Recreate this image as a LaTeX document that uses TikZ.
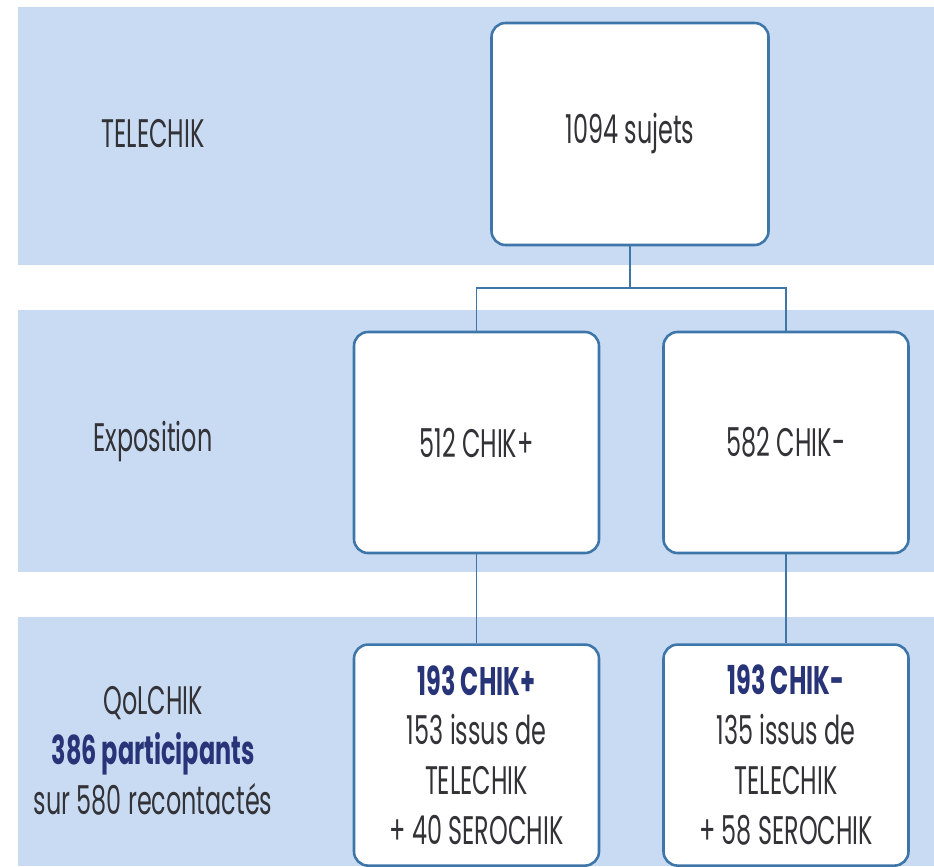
\documentclass[tikz,border=0pt]{standalone}
\usepackage{fontspec}
\setmainfont[FakeStretch=0.6]{Poppins}
\usepackage{tikz}
\usetikzlibrary{positioning}

\definecolor{bandblue}{RGB}{200,219,243}
\definecolor{lineblue}{RGB}{62,118,170}
\definecolor{navy}{RGB}{40,52,120}
\definecolor{textgrey}{RGB}{50,50,55}

\begin{document}
\begin{tikzpicture}[
                x=0.03cm,y=-0.03cm,
                node distance=2.67cm,
                every node/.append style={text=textgrey,font=\fontsize{34}{42.5}\selectfont,align=center},
                box/.style={draw=lineblue,line width=2.2pt,fill=white,rounded corners=12pt,
                            minimum width=7.35cm,minimum height=6.63cm,inner sep=2pt},
                link/.style={draw=lineblue,line width=1.6pt}
            ]
                \useasboundingbox (0,0) rectangle (934,866);
                \fill[bandblue] (18,7) rectangle (934,265);
                \fill[bandblue] (18,310) rectangle (934,572);
                \fill[bandblue] (18,617) rectangle (934,866);

                \node (telechik) at (153,134) {TELECHIK};
                \node (expo)     at (153,442) {Exposition};
                \node (qolchik)  at (153,751) {QoLCHIK\\{\bfseries\color{navy}386 participants}\\sur 580 recontactés};

                \node (all)  [box,minimum width=8.31cm,minimum height=6.66cm] at (630,134) {1094 sujets};
                \node (pos)  [box] at (476.5,442.5) {512 CHIK+};
                \node (neg)  [box] at (786,442.5) {582 CHIK-};
                \node (qpos) [box,below=of pos] {{\bfseries\color{navy}193 CHIK+}\\153 issus de\\TELECHIK\\+ 40 SEROCHIK};
                \node (qneg) [box,below=of neg] {{\bfseries\color{navy}193 CHIK-}\\135 issus de\\TELECHIK\\+ 58 SEROCHIK};

                \coordinate (split) at (630,288);
                \draw[link] (all.south) -- (split);
                \draw[link] (pos.north) |- (split) -| (neg.north);
                \draw[link] (pos.south) -- (qpos.north);
                \draw[link] (neg.south) -- (qneg.north);
            \end{tikzpicture}
\end{document}
